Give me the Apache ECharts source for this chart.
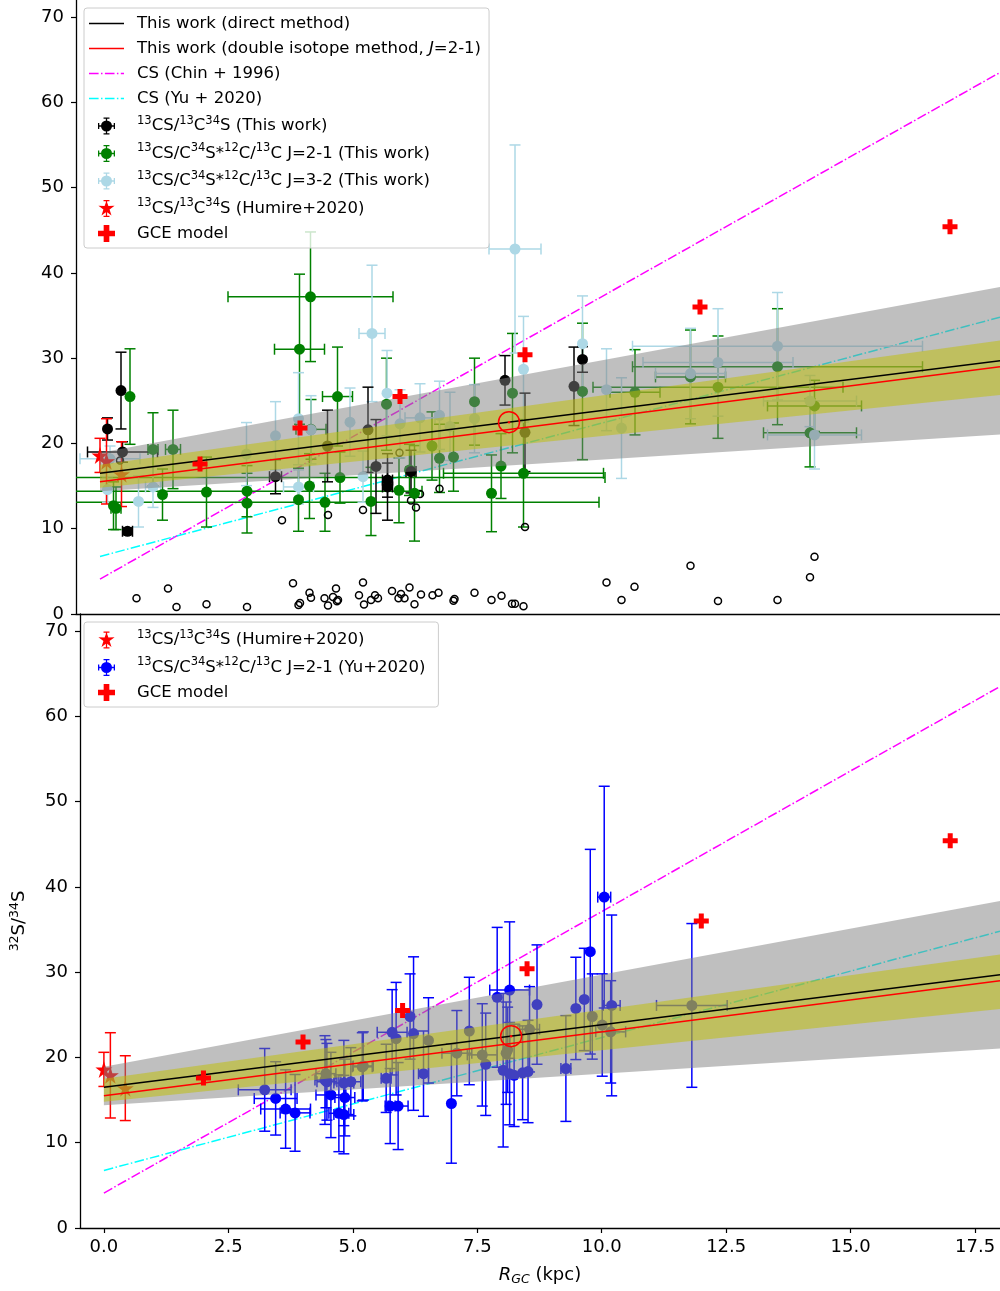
<!DOCTYPE html>
<html><head><meta charset="utf-8">
<script src="https://cdn.jsdelivr.net/npm/echarts@6/dist/echarts.min.js"></script>
<style>html,body{margin:0;padding:0;background:#fff}#c{width:1000px;height:1291px}</style>
</head><body><div id="c"></div>
<script>
// ---------------- data ----------------
const xTicks = [0, 2.5, 5, 7.5, 10, 12.5, 15, 17.5];
const yTicks = [0, 10, 20, 30, 40, 50, 60, 70];
const fitX = [0, 18];
const directY = [16.5, 29.69];
const doubleY = [15.5, 29.0];
const chinY = [4.1, 63.5];
const yuY = [6.75, 34.8];
const grayLo = [14.4, 21.06];
const grayHi = [18.9, 38.34];
const oliveLo = [14.8, 25.69];
const oliveHi = [17.5, 32.08];
const gceX = [2, 4, 6, 8.5, 12, 17];
const gceY = [17.6, 21.8, 25.5, 30.4, 36.0, 45.4];
const sunPos = [[8.18, 22.5]];
// [x, y, xerr, yerr]
const blackPts = [
 [0.15,21.7,0,1.3],[0.42,26.2,0,4.5],[0.45,19.0,0.7,1.2],[0.55,9.7,0.1,0.4],
 [3.51,16.1,0.12,2.0],[4.55,19.7,0,4.2],[5.36,21.6,0,5.0],[5.52,17.3,0,5.5],
 [5.75,15.7,0.1,2.0],[5.75,14.9,0.1,3.9],[6.22,16.7,0.1,2.5],[8.1,27.4,0,2.9],
 [8.5,21.3,0,4.6],[9.48,26.7,0,4.6],[9.65,29.85,0,1.5]
];
const greenPts = [
 [0.6,25.5,0,5.6],[0.27,12.7,0,2.8],[0.32,12.4,0.1,2.5],[1.06,19.3,0.1,4.3],
 [1.46,19.3,0.15,4.6],[1.25,14.0,0,3.0],[2.13,14.3,0,4.1],[2.94,14.4,3.5,3.0],
 [2.94,13.0,0,3.5],[3.99,31.05,0.5,8.8],[4.21,37.2,1.65,7.6],[4.22,21.65,0.3,3.5],
 [4.19,15.0,0,3.8],[3.97,13.4,0,3.7],[4.5,13.1,5.48,3.4],[4.75,25.5,0.3,5.8],
 [4.8,16.0,5.3,3.0],[5.73,24.6,0,5.4],[7.49,24.9,0,5.1],[8.25,25.9,0,7.0],
 [9.65,26.1,0,8.0],[10.7,26.0,0.5,5.0],[7.83,14.15,0,4.5],[8.02,17.35,0,3.8],
 [8.47,16.5,1.6,6.3],[5.98,14.5,0,3.8],[6.29,14.15,0,5.6],[5.42,13.2,0,4.0],
 [6.79,18.25,0,4.0],[7.07,18.4,0,4.0],[6.64,19.7,0,4.0],[6.19,16.9,0,3.0],
 [11.81,27.8,0.7,5.5],[12.36,26.6,2.5,6.0],[13.55,29.0,2.9,6.8],[14.29,24.4,0.94,3.0],
 [14.2,21.25,0.93,4.0]
];
const lblPts = [
 [0.15,14.6,0,1.5],[0.77,13.2,0,3.0],[1.06,14.9,0.15,2.4],[2.93,18.75,0,3.7],
 [3.51,20.9,0,4.0],[3.97,14.9,0.3,2.0],[3.97,22.9,0,5.4],[4.22,21.6,0,4.0],
 [5.44,32.9,0.26,8.0],[5.74,25.9,0,5.0],[8.3,42.8,0.52,12.2],[8.47,28.7,0,6.2],
 [9.65,31.7,0,5.6],[7.49,22.9,0,4.0],[6.79,23.3,0,4.0],[10.13,26.3,0,4.8],
 [10.43,21.8,0,5.9],[5.26,16.1,0,3.0],[11.81,28.2,0.7,5.3],[12.36,29.5,1.5,6.3],
 [13.55,31.4,2.9,6.3],[14.2,24.97,0.93,3.0],[14.29,21.0,0.94,4.0],[0.2,18.2,0.6,1.5],
 [5.0,22.5,0,4.0],[6.0,22.3,0,4.0],[6.4,23.0,0.3,4.0],[7.0,22.0,0,4.0]
];
const starPts = [[0.0,18.6,0,2.0],[0.13,17.9,0,5.0],[0.43,16.4,0,3.8]];
const bluePts = [
 [3.23,16.2,0.53,4.85],[3.45,15.2,0.43,4.3],[3.65,13.95,0.5,4.6],[3.84,13.5,0.3,4.5],
 [4.44,17.35,0.2,5.2],[4.56,15.6,0.3,5.0],[4.72,13.45,0.2,4.5],[4.48,17.15,0.2,4.5],
 [4.82,17.0,0.2,5.0],[4.96,17.15,0.2,4.0],[4.84,15.3,0.2,4.5],[4.82,13.3,0.2,4.6],
 [5.19,18.9,0.2,4.0],[5.67,17.55,0.1,4.0],[5.75,14.3,0.1,4.4],[5.91,14.3,0.2,5.1],
 [5.79,22.95,0.3,5.0],[5.87,22.2,0,6.6],[6.15,24.8,0,5.0],[6.22,22.8,0,9.0],
 [6.42,18.1,0.1,5.0],[6.52,22.0,0,5.0],[6.98,14.6,0,7.0],[7.34,23.1,0,6.3],
 [7.09,20.5,0.3,5.0],[7.6,20.3,0.3,6.0],[7.67,19.2,0,6.0],[7.9,27.05,0,8.2],
 [8.15,27.9,0.4,8.0],[8.02,18.5,0,9.0],[8.08,20.5,0,6.0],[8.11,20.9,0,5.0],
 [8.15,18.1,0,6.0],[8.24,17.9,0,6.0],[8.41,18.2,0,5.5],[8.52,18.35,0,6.0],
 [8.55,23.3,0.2,5.0],[8.7,26.2,0,7.0],[9.28,18.7,0.1,6.2],[9.48,25.75,0,6.0],
 [9.65,26.8,0,6.0],[9.77,32.4,0,12.0],[9.81,24.8,0,5.0],[10.01,23.8,0,6.0],
 [10.05,38.8,0.13,13.0],[10.18,23.0,0.3,6.0],[10.2,26.1,0.17,10.6],[11.81,26.1,0.71,9.6],
 [5.21,19.0,0.2,4.0],[4.46,18.1,0.2,4.0]
];
const openPts = [
 [0.73,1.84],[1.36,3.0],[1.53,0.82],[2.13,1.13],[2.94,0.82],[3.86,3.6],[3.97,1.05],[4.0,1.3],
 [4.19,2.5],[4.22,1.9],[4.49,1.84],[4.56,1.0],[4.66,2.0],[4.72,3.0],[4.74,1.5],[3.64,11.0],
 [4.56,11.6],[0.4,18.0],[5.99,18.9],[5.26,12.2],[6.22,13.3],[6.32,12.5],[6.4,14.07],[6.79,14.7],
 [8.5,10.2],[4.76,1.64],[5.26,3.7],[5.18,2.2],[5.28,1.1],[5.42,1.64],[5.5,2.2],[5.56,1.84],
 [5.84,2.7],[5.97,1.84],[6.02,2.34],[6.09,1.84],[6.19,3.1],[6.29,1.14],[6.42,2.3],[6.65,2.2],
 [6.77,2.5],[7.07,1.56],[7.09,1.76],[7.49,2.5],[7.83,1.64],[8.03,2.15],[8.24,1.2],[8.3,1.2],
 [8.47,0.9],[10.13,3.7],[10.43,1.64],[10.69,3.2],[11.81,5.67],[12.36,1.52],[13.55,1.64],
 [14.2,4.3],[14.29,6.7]
];

// ---------------- chart ----------------
const FONT = 'DejaVu Sans';
const N = {
  direct: 'This work (direct method)',
  dbl: 'This work (double isotope method, J=2-1)',
  chin: 'CS (Chin + 1996)',
  yu: 'CS (Yu + 2020)',
  blk: '13CS/13C34S (This work)',
  grn: '13CS/C34S*12C/13C J=2-1 (This work)',
  lbl: '13CS/C34S*12C/13C J=3-2 (This work)',
  star: '13CS/13C34S (Humire+2020)',
  gce: 'GCE model',
  blue: '13CS/C34S*12C/13C J=2-1 (Yu+2020)'
};
const RICH = {};
RICH[N.direct] = 'This work (direct method)';
RICH[N.dbl] = 'This work (double isotope method, {it|J}=2-1)';
RICH[N.chin] = 'CS (Chin + 1996)';
RICH[N.yu] = 'CS (Yu + 2020)';
RICH[N.blk] = '{sup|13}CS/{sup|13}C{sup|34}S (This work)';
RICH[N.grn] = '{sup|13}CS/C{sup|34}S*{sup|12}C/{sup|13}C J=2-1 (This work)';
RICH[N.lbl] = '{sup|13}CS/C{sup|34}S*{sup|12}C/{sup|13}C J=3-2 (This work)';
RICH[N.star] = '{sup|13}CS/{sup|13}C{sup|34}S (Humire+2020)';
RICH[N.gce] = 'GCE model';
RICH[N.blue] = '{sup|13}CS/C{sup|34}S*{sup|12}C/{sup|13}C J=2-1 (Yu+2020)';

const ICON_EB = 'path://M-10,-0.75H10V0.75H-10Z M-0.75,-10H0.75V10H-0.75Z M-10,-3.5H-8.5V3.5H-10Z M8.5,-3.5H10V3.5H8.5Z M-3.5,-10H3.5V-8.5H-3.5Z M-3.5,8.5H3.5V10H-3.5Z M-6.5,0A6.5,6.5 0 1,1 6.5,0A6.5,6.5 0 1,1 -6.5,0Z';
const STAR = 'path://M0,-10L2.23,-3.07L9.51,-3.09L3.61,1.17L5.88,8.09L0,3.8L-5.88,8.09L-3.61,1.17L-9.51,-3.09L-2.23,-3.07Z';
const ICON_STAR = 'path://M0,-9L2.23,-3.07L9.51,-3.09L3.61,1.17L5.88,8.09L0,3.8L-5.88,8.09L-3.61,1.17L-9.51,-3.09L-2.23,-3.07Z M-0.75,-10H0.75V10H-0.75Z M-3.5,-10H3.5V-8.5H-3.5Z M-3.5,8.5H3.5V10H-3.5Z';
const PLUS = 'path://M-1,-3H1V-1H3V1H1V3H-1V1H-3V-1H-1Z';
const ICON_SOLID = 'path://M0,0H35V1.6H0Z';
const ICON_DASHDOT = 'path://M0,0H9.6V1.6H0Z M12,0H13.5V1.6H12Z M15.9,0H25.5V1.6H15.9Z M27.9,0H29.4V1.6H27.9Z M31.8,0H35V1.6H31.8Z';

function fitLine(ys){ return fitX.map((x,i)=>[x, ys[i]]); }

function errSeries(pts, color, gi){
  return {
    type:'custom', xAxisIndex:gi, yAxisIndex:gi, z:2, clip:true, silent:true,
    data: pts.map(p=>p.slice()),
    encode:{x:0,y:1},
    renderItem:function(params, api){
      const x=api.value(0), y=api.value(1), xe=api.value(2), ye=api.value(3);
      const st = {stroke:color, lineWidth:1.5};
      const cap = 5.5;
      const ch = [];
      const t = api.coord([x, y+ye]), b = api.coord([x, y-ye]);
      ch.push({type:'line', shape:{x1:t[0],y1:t[1],x2:b[0],y2:b[1]}, style:st});
      ch.push({type:'line', shape:{x1:t[0]-cap,y1:t[1],x2:t[0]+cap,y2:t[1]}, style:st});
      ch.push({type:'line', shape:{x1:b[0]-cap,y1:b[1],x2:b[0]+cap,y2:b[1]}, style:st});
      if (xe > 0) {
        const l = api.coord([x-xe, y]), r = api.coord([x+xe, y]);
        ch.push({type:'line', shape:{x1:l[0],y1:l[1],x2:r[0],y2:r[1]}, style:st});
        ch.push({type:'line', shape:{x1:l[0],y1:l[1]-cap,x2:l[0],y2:l[1]+cap}, style:st});
        ch.push({type:'line', shape:{x1:r[0],y1:r[1]-cap,x2:r[0],y2:r[1]+cap}, style:st});
      }
      return {type:'group', children:ch};
    }
  };
}
function ptSeries(name, pts, color, gi, symbol, size){
  return {
    type:'scatter', name:name, xAxisIndex:gi, yAxisIndex:gi, z:2, silent:true,
    symbol:symbol||'circle', symbolSize:size||11,
    itemStyle:{color:color, opacity:1},
    data: pts.map(p=>[p[0],p[1]])
  };
}
function bandSeries(lo, hi, color, gi){
  return {
    type:'custom', xAxisIndex:gi, yAxisIndex:gi, z:3, clip:true, silent:true,
    data:[[fitX[0], lo[0]]],
    renderItem:function(params, api){
      const pts = [
        api.coord([fitX[0], hi[0]]), api.coord([fitX[1], hi[1]]),
        api.coord([fitX[1], lo[1]]), api.coord([fitX[0], lo[0]])
      ];
      return {type:'polygon', shape:{points:pts}, style:{fill:color}};
    }
  };
}
function lineSeries(name, ys, color, gi, dashed, z){
  return {
    type:'line', name:name, xAxisIndex:gi, yAxisIndex:gi, z:z, silent:true,
    symbol:'none', showSymbol:false, data:fitLine(ys), clip:true,
    lineStyle:{color:color, width:1.5, type: dashed ? [9.6,2.4,1.5,2.4] : 'solid'},
    itemStyle:{color:color}
  };
}
function panel(gi, top){
  const s = [];
  s.push(lineSeries(N.chin, chinY, '#ff00ff', gi, true, 1));
  s.push(lineSeries(N.yu, yuY, '#00ffff', gi, true, 1));
  if (top) {
    s.push({type:'scatter', xAxisIndex:gi, yAxisIndex:gi, z:2, silent:true, symbol:'circle', symbolSize:7,
      itemStyle:{color:'rgba(255,255,255,0)', borderColor:'#000', borderWidth:1.5, opacity:1},
      data: openPts.map(p=>p.slice())});
    s.push(errSeries(greenPts, '#008000', gi));
    s.push(ptSeries(N.grn, greenPts, '#008000', gi));
    s.push(errSeries(lblPts, '#add8e6', gi));
    s.push(ptSeries(N.lbl, lblPts, '#add8e6', gi));
    s.push(errSeries(blackPts, '#000000', gi));
    s.push(ptSeries(N.blk, blackPts, '#000000', gi));
  } else {
    s.push(errSeries(bluePts, '#0000ff', gi));
    s.push(ptSeries(N.blue, bluePts, '#0000ff', gi));
  }
  s.push(errSeries(starPts, '#ff0000', gi));
  s.push(ptSeries(N.star, starPts, '#ff0000', gi, STAR, 17));
  s.push(bandSeries(grayLo, grayHi, 'rgba(128,128,128,0.5)', gi));
  s.push(bandSeries(oliveLo, oliveHi, 'rgba(191,191,0,0.5)', gi));
  s.push(lineSeries(N.direct, directY, '#000000', gi, false, 4));
  s.push(lineSeries(N.dbl, doubleY, '#ff0000', gi, false, 4));
  s.push({type:'scatter', name:N.gce, xAxisIndex:gi, yAxisIndex:gi, z:5, silent:true,
    symbol:PLUS, symbolSize:15, itemStyle:{color:'#ff0000', opacity:1},
    data: gceX.map((x,i)=>[x, gceY[i]])});
  s.push({type:'scatter', xAxisIndex:gi, yAxisIndex:gi, z:5, silent:true,
    symbol:'circle', symbolSize:21,
    itemStyle:{color:'rgba(255,255,255,0)', borderColor:'#ff0000', borderWidth:1.5, opacity:1},
    data: sunPos.map(p=>p.slice())});
  s.push({type:'scatter', xAxisIndex:gi, yAxisIndex:gi, z:5, silent:true,
    symbol:'circle', symbolSize:2.5, itemStyle:{color:'#ff0000', opacity:1},
    data: sunPos.map(p=>p.slice())});
  return s;
}

const richStyles = {
  sup:{fontFamily:FONT, fontSize:11.5, padding:[0,0,10,0], color:'#000'},
  sub:{fontFamily:FONT, fontSize:12, padding:[8,0,0,0], color:'#000'},
  it:{fontFamily:FONT, fontSize:16.5, fontStyle:'italic', color:'#000'}
};
const noStroke = {width:0, opacity:0};
function legendCfg(top, items, pad){
  return {
    show:true, orient:'vertical', left:84, top:top, selectedMode:false,
    itemWidth:35, itemHeight:17, itemGap:8, padding:pad,
    backgroundColor:'rgba(255,255,255,0.8)', borderColor:'#cccccc', borderWidth:1, borderRadius:3,
    z:10,
    formatter:function(n){ return RICH[n] || n; },
    textStyle:{fontFamily:FONT, fontSize:16.5, color:'#000', padding:[0,0,0,8], rich:richStyles},
    data: items
  };
}
function li(name, icon, color){
  return {name:name, icon:icon, itemStyle:{color:color, opacity:1, borderWidth:0}, lineStyle:noStroke};
}

const yAx = (gi, withName) => ({
  type:'value', gridIndex:gi, min:0, max:72,
  axisLine:{show:true, onZero:false, lineStyle:{color:'#000', width:1.3}},
  axisTick:{show:true, length:5, lineStyle:{color:'#000', width:1.2}, customValues:yTicks},
  axisLabel:{show:true, fontFamily:FONT, fontSize:18, color:'#000', margin:12, customValues:yTicks},
  splitLine:{show:false},
  name: withName ? '{sup|32}S/{sup|34}S' : '',
  nameLocation:'middle', nameGap:50,
  nameTextStyle:{fontFamily:FONT, fontSize:18, color:'#000', rich:{sup:{fontFamily:FONT, fontSize:12.5, padding:[0,0,9,0], color:'#000'}}}
});
const xAx = (gi, labels) => ({
  type:'value', gridIndex:gi, min:-0.48, max:18,
  axisLine:{show:true, onZero:false, lineStyle:{color:'#000', width:1.3}},
  axisTick:{show:labels, length:5, lineStyle:{color:'#000', width:1.2}, customValues:xTicks},
  axisLabel:{show:labels, fontFamily:FONT, fontSize:18, color:'#000', margin:10, customValues:xTicks,
    formatter:v=>Number(v).toFixed(1)},
  splitLine:{show:false},
  name: labels ? '{it|R}{sub|GC} (kpc)' : '',
  nameLocation:'middle', nameGap:36,
  nameTextStyle:{fontFamily:FONT, fontSize:18, color:'#000', rich:{
    it:{fontFamily:FONT, fontSize:18, fontStyle:'italic', color:'#000'},
    sub:{fontFamily:FONT, fontSize:12.5, padding:[9,0,0,0], fontStyle:'italic', color:'#000'}}}
});

const chart = echarts.init(document.getElementById('c'), null, {renderer:'canvas'});
chart.setOption({
  animation:false,
  backgroundColor:'#fff',
  grid:[
    {left:76, right:0, top:0, height:614, containLabel:false},
    {left:76, right:0, top:614, height:614, containLabel:false}
  ],
  xAxis:[xAx(0,false), xAx(1,true)],
  yAxis:[yAx(0,false), yAx(1,true)],
  legend:[
    legendCfg(8, [
      li(N.direct, ICON_SOLID, '#000000'), li(N.dbl, ICON_SOLID, '#ff0000'),
      li(N.chin, ICON_DASHDOT, '#ff00ff'), li(N.yu, ICON_DASHDOT, '#00ffff'),
      li(N.blk, ICON_EB, '#000000'), li(N.grn, ICON_EB, '#008000'), li(N.lbl, ICON_EB, '#add8e6'),
      li(N.star, ICON_STAR, '#ff0000'), li(N.gce, PLUS, '#ff0000')
    ], [7,8,6,5]),
    legendCfg(622, [
      li(N.star, ICON_STAR, '#ff0000'), li(N.blue, ICON_EB, '#0000ff'), li(N.gce, PLUS, '#ff0000')
    ], [7,13,6,14])
  ],
  series: panel(0, true).concat(panel(1, false))
});
</script></body></html>
